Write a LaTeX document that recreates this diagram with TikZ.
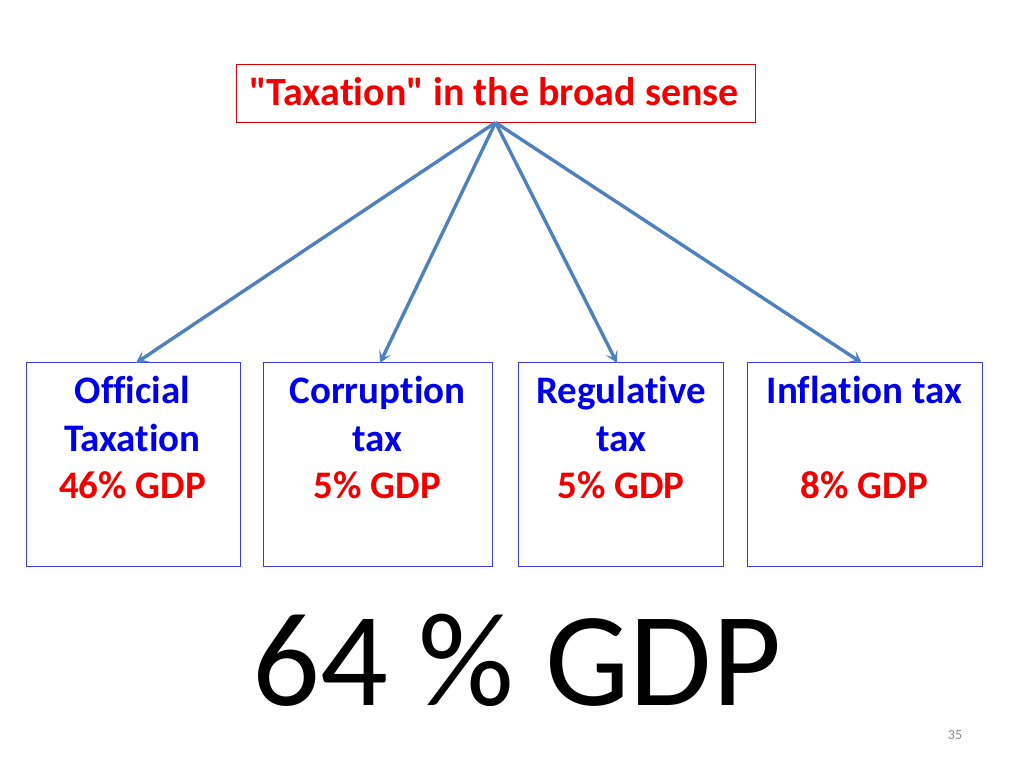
\documentclass[tikz,border=0pt]{standalone}
\usepackage{fontspec}
\setmainfont{Carlito}
\newfontfamily\carlito{Carlito}[Ligatures=NoCommon]
\usetikzlibrary{arrows.meta}
\definecolor{arrowblue}{RGB}{79,129,189}
\definecolor{txtblue}{RGB}{0,0,230}
\definecolor{txtred}{RGB}{240,0,0}
\definecolor{boxblue}{RGB}{60,60,220}
\begin{document}
\begin{tikzpicture}[x=1pt,y=-1pt,
  catbox/.style={draw=boxblue, line width=1pt, minimum width=#1, minimum height=204pt, inner sep=0pt, anchor=north west},
  topbox/.style={draw=txtred!90!black, line width=1pt, minimum width=519pt, minimum height=58pt, inner sep=0pt},
  bluetxt/.style={text=txtblue, font=\carlito\fontsize{39}{47}\selectfont\bfseries, anchor=base, inner sep=0pt},
  redtxt/.style={text=txtred, font=\carlito\fontsize{39}{47}\selectfont\bfseries, anchor=base, inner sep=0pt},
  conn/.style={draw=arrowblue, line width=3.4pt, -{Stealth[length=12pt,width=13pt,inset=6pt]}}
]
\useasboundingbox (0,0) rectangle (1024,767);
\fill[white] (0,0) rectangle (1024,767);
% top box
\node[topbox] (top) at (495.5,94) {};
\node[redtxt, font=\carlito\fontsize{40}{48}\selectfont\bfseries] (toptxt) at (494,106) {"Taxation" in the broad sense};
% category boxes
\node[catbox=214pt] (b1) at (25.5,362) {};
\node[catbox=229pt] (b2) at (263,362) {};
\node[catbox=205pt] (b3) at (518,362) {};
\node[catbox=235pt] (b4) at (747,362) {};
% texts
\node[bluetxt] (b1a) at (132.5,403) {Official};
\node[bluetxt] (b1b) at (132.5,451) {Taxation};
\node[redtxt]  (b1c) at (132.5,498) {46\% GDP};
\node[bluetxt] (b2a) at (377.5,403) {Corruption};
\node[bluetxt] (b2b) at (377.5,451) {tax};
\node[redtxt]  (b2c) at (377.5,498) {5\% GDP};
\node[bluetxt] (b3a) at (621,403) {Regulative};
\node[bluetxt] (b3b) at (621,451) {tax};
\node[redtxt]  (b3c) at (621,498) {5\% GDP};
\node[bluetxt] (b4a) at (864.5,403) {Inflation tax};
\node[redtxt]  (b4c) at (864.5,498) {8\% GDP};
% connectors
\coordinate (src) at ([yshift=1pt]top.south);
\draw[conn] (src) -- ([xshift=3pt,yshift=-1pt]b1.north);
\draw[conn] (src) -- ([xshift=2pt,yshift=-1pt]b2.north);
\draw[conn] (src) -- ([xshift=-4pt,yshift=-1pt]b3.north);
\draw[conn] (src) -- ([xshift=-3pt,yshift=-1pt]b4.north);
% total
\node[anchor=base, inner sep=0pt, font=\carlito\fontsize{134}{160}\selectfont] (total) at (517,705) {64 \% GDP};
\node[anchor=base, inner sep=0pt, text=black!45, font=\carlito\fontsize{14}{17}\selectfont] (pg) at (955,739) {35};
\end{tikzpicture}
\end{document}
